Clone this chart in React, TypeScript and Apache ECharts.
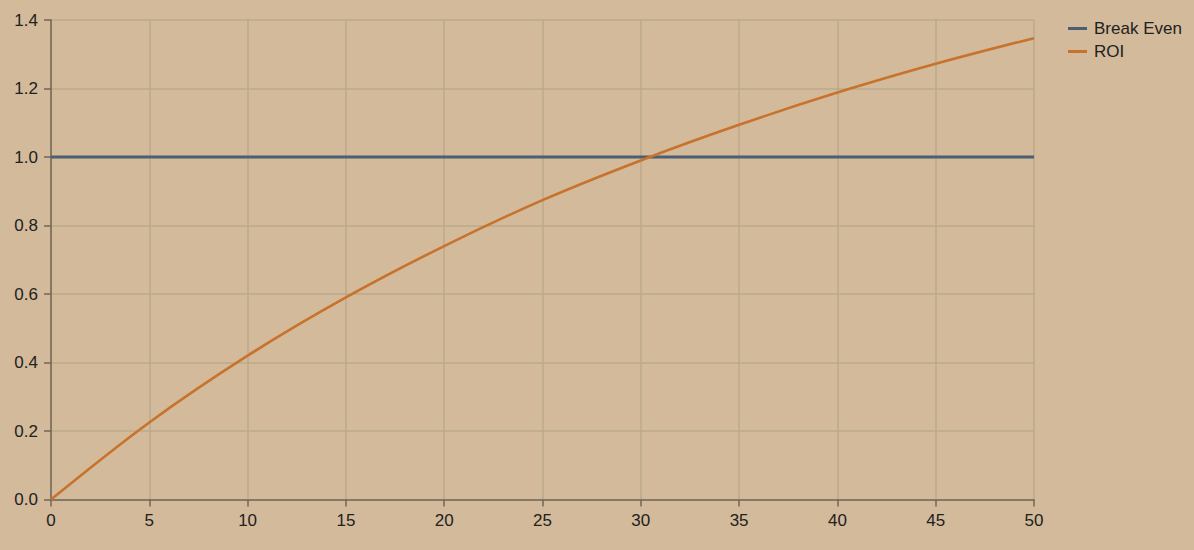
import React, { useEffect, useRef } from "react";
import * as echarts from "echarts";

const years = [0, 5, 10, 15, 20, 25, 30, 35, 40, 45, 50];
const roiValues = [0, 0.225, 0.42, 0.59, 0.74, 0.874, 0.99, 1.094, 1.188, 1.272, 1.347];
const breakEvenYears = [0, 50];
const breakEvenValues = [1, 1];
const seriesNames = ["Break Even", "ROI"];

export default function App() {
  const ref = useRef<HTMLDivElement>(null);
  useEffect(() => {
    if (!ref.current) return;
    document.body.style.margin = "0";
    const chart = echarts.init(ref.current, undefined, { renderer: "svg" });
    const axisColor = "#6f6759";
    const gridColor = "#bba98c";
    const textColor = "#222120";
    const font = "Liberation Sans, Arial, Helvetica, sans-serif";
    chart.setOption({
      animation: false,
      backgroundColor: "#d2ba9a",
      textStyle: { fontFamily: font },
      grid: { left: 51, right: 160, top: 20, bottom: 50.5, containLabel: false },
      legend: {
        orient: "vertical",
        left: 1063,
        top: 15,
        itemGap: 6,
        itemWidth: 19,
        itemHeight: 3,
        icon: "rect",
        textStyle: { color: textColor, fontSize: 17, fontFamily: font, padding: [0, 0, 0, 2] },
        data: seriesNames,
      },
      xAxis: {
        type: "value",
        min: 0,
        max: 50,
        interval: 5,
        axisLine: { show: true, lineStyle: { color: axisColor, width: 1.5 } },
        axisTick: { show: true, length: 7, lineStyle: { color: axisColor, width: 1.5 } },
        axisLabel: { color: textColor, fontSize: 17, margin: 12, fontFamily: font },
        splitLine: { show: true, lineStyle: { color: gridColor, width: 1.5 } },
      },
      yAxis: {
        type: "value",
        min: 0,
        max: 1.4,
        interval: 0.2,
        axisLine: { show: true, lineStyle: { color: axisColor, width: 1.5 } },
        axisTick: { show: true, length: 7, lineStyle: { color: axisColor, width: 1.5 } },
        axisLabel: {
          color: textColor,
          fontSize: 17,
          margin: 13,
          fontFamily: font,
          formatter: (v: number) => v.toFixed(1),
        },
        splitLine: { show: true, lineStyle: { color: gridColor, width: 1.5 } },
      },
      series: [
        {
          name: seriesNames[0],
          type: "line",
          data: breakEvenYears.map((x, i) => [x, breakEvenValues[i]]),
          showSymbol: false,
          symbol: "none",
          lineStyle: { color: "#4b5e74", width: 3 },
          itemStyle: { color: "#4b5e74" },
        },
        {
          name: seriesNames[1],
          type: "line",
          data: years.map((x, i) => [x, roiValues[i]]),
          smooth: 0.35,
          showSymbol: false,
          symbol: "none",
          lineStyle: { color: "#c8722c", width: 2.6 },
          itemStyle: { color: "#c8722c" },
        },
      ],
    });
    return () => chart.dispose();
  }, []);
  return <div ref={ref} style={{ position: "fixed", left: 0, top: 0, width: 1194, height: 550 }} />;
}
